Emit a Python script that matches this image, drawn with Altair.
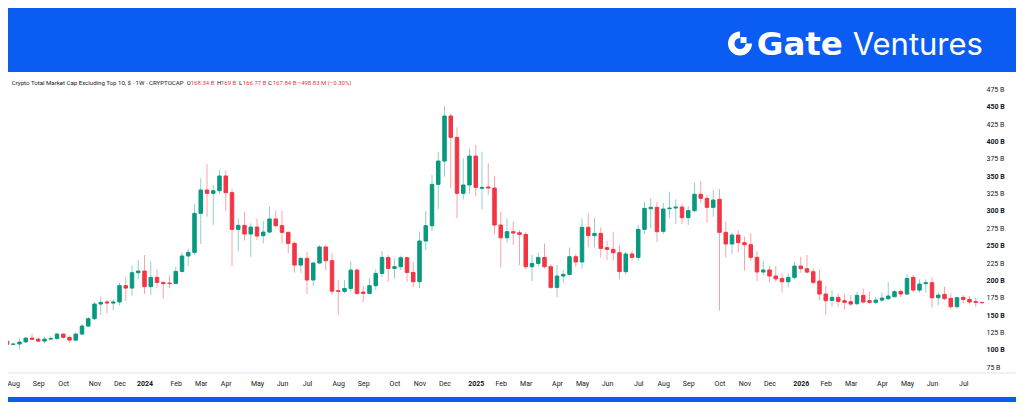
import altair as alt
import pandas as pd

# ---------------- data (weekly candles, values in billions USD) ----------------
start_date = "2023-07-31"
n_weeks = 157
week_dates = [d.strftime("%Y-%m-%d") for d in pd.date_range(start_date, periods=n_weeks, freq="7D")]

opens = [112.5, 108, 108.5, 111.5, 117, 115.4, 112.7, 115.6, 116.5, 122.8,
         118, 114.1, 122.8, 134.3, 144.9, 166, 169, 167.4, 169, 192.4,
         189, 211.1, 213.5, 191, 204.4, 197.2, 196.2, 195.5, 213, 235.1,
         240.4, 296.5, 330.1, 325.3, 329.1, 350.3, 326.3, 273.5, 279.2, 266.8,
         276.8, 264.4, 269.6, 288.4, 278.8, 269.2, 253.3, 222.1, 231.7, 200.6,
         225, 248.1, 228.4, 185.2, 184.3, 188.5, 214.9, 183.2, 181.3, 192.4,
         210.1, 233.1, 217.3, 219.7, 232.7, 211.5, 198.1, 256.7, 278.7, 338.2,
         371.8, 436.6, 405.9, 325.3, 337.3, 379, 332.5, 334.4, 333, 279.7,
         261.4, 270.1, 268.6, 266.2, 219.7, 224.5, 233.1, 219.7, 190, 206.3,
         208.7, 234.1, 226.5, 276.4, 264.4, 267.7, 247.1, 244.7, 239.9, 212.6,
         238, 233.2, 273.5, 303.2, 305.2, 270.6, 303.2, 304.2, 305.6, 290.3,
         300.4, 323.9, 318.1, 305.2, 316.7, 269.2, 252.4, 265.3, 254.3, 251.4,
         233.2, 212.1, 215, 206.3, 202.9, 198.1, 204.4, 220.7, 216.8, 212.5,
         199.1, 180.4, 171.3, 175.6, 170.8, 169.3, 166.5, 178.5, 170.8, 168.4,
         171.7, 173.7, 176.5, 184.2, 180.4, 204.4, 186.1, 195.3, 196.7, 175.1,
         179.9, 174.1, 162.1, 175.6, 172.7, 169.5, 168.34]
highs = [113.5, 109.5, 116.5, 118, 123.7, 118, 118.9, 119.9, 124.7, 123.7,
         120.9, 124.7, 137.2, 147.7, 169.3, 176.5, 171.7, 172.7, 196.7, 204.4,
         221.7, 229.4, 236.6, 227, 215.9, 198.2, 207.3, 219.8, 239.9, 245.7,
         310, 346.9, 367.5, 337.3, 358.9, 358, 332, 289.3, 298.4, 282.1,
         289.3, 285.5, 306.1, 300.3, 300.3, 270.1, 255.7, 234.1, 241.3, 226.9,
         250.9, 250.9, 238.9, 200.5, 200.5, 226.9, 217.3, 192.4, 202.9, 216.3,
         242.3, 236.5, 231.7, 235.5, 234.1, 226.9, 270.1, 299.8, 351.6, 384.3,
         451.4, 440.4, 420.3, 375.6, 390, 394.8, 385.2, 368.4, 350.2, 298.9,
         289.3, 284.5, 272.5, 270.1, 236.5, 239.9, 253.3, 223.5, 222.2, 214.9,
         247.1, 238, 289.3, 296.5, 290.3, 276.4, 257.2, 270.1, 251, 241.3,
         242.8, 279.7, 313.3, 318.1, 313.3, 311.9, 327.7, 316.7, 310, 307.1,
         340.7, 343.1, 322.9, 330.1, 331.5, 284.5, 268.7, 272.5, 262.9, 267.7,
         241.8, 228.4, 220.7, 220.7, 210.1, 210.1, 226.9, 234.1, 236.5, 217.3,
         215.9, 191.9, 186.1, 181.3, 179.9, 178.9, 183.7, 188.5, 183.7, 176.5,
         182.3, 197.6, 186.1, 187.1, 209.2, 207.7, 201.5, 201.5, 204.4, 182.8,
         190.9, 181.3, 176.5, 178.9, 177.5, 175.1, 169]
lows = [107.5, 107, 100.7, 110.5, 114.1, 111.7, 109.3, 114.1, 114.1, 116.5,
        110.3, 112.7, 122.3, 133.3, 143, 150.1, 152.5, 157.4, 164.1, 170.8,
        178, 201.5, 180.4, 179, 188.6, 174.2, 189.1, 194.8, 211.1, 220.7,
        236.6, 252.4, 291.7, 279.7, 324.4, 300.4, 220.7, 242.3, 257.2, 234.1,
        258.1, 253.3, 267.7, 276.4, 253.3, 238.9, 211.1, 211.1, 180.4, 192.4,
        224.5, 214.9, 178.9, 150.1, 181.3, 183.7, 178.9, 168.4, 179.9, 186.1,
        205.3, 198.1, 202, 214.9, 198.1, 190.9, 189.5, 243.7, 271, 302.7,
        349.2, 332.5, 289.3, 316.6, 325.3, 320.5, 302.2, 322.9, 266.7, 218.7,
        254.2, 250.9, 222.1, 215.9, 199.1, 219.7, 217.3, 187.6, 175.6, 196.7,
        206.3, 219.8, 216.9, 247.6, 247.6, 232.7, 229.3, 228.4, 201.5, 208.7,
        228.4, 228.4, 266.8, 275, 255.7, 266.8, 289.3, 281.2, 281.2, 279.7,
        298, 310.9, 283.6, 291.7, 156.4, 232.7, 238, 239.9, 214, 228.4,
        198.6, 207.8, 197.7, 198.1, 182.3, 190, 201.5, 211.1, 210.1, 194.8,
        171.7, 150.1, 162.1, 162.1, 158.3, 163.1, 164.1, 166.9, 166, 166,
        168.9, 171.7, 175.6, 175.6, 178.9, 182.8, 182.3, 182.3, 160.7, 164.1,
        171.7, 158.3, 159.7, 166.9, 165.5, 162.1, 166.77]
closes = [108, 108.5, 111.3, 117, 115.1, 112.7, 115.6, 116.5, 122.8, 118,
          114.1, 122.8, 134.3, 144.9, 166, 168.4, 167.4, 169, 192.4, 189,
          211.1, 213.5, 191, 204.4, 197.2, 195.3, 195.5, 213, 235.1, 240.4,
          296.5, 330.1, 325.3, 329.1, 350.3, 326.3, 273.5, 279.2, 266.8, 276.8,
          263.9, 269.6, 288.4, 278.8, 269.2, 253.3, 222.1, 231.7, 200.6, 225,
          248.1, 228.4, 184.5, 184.3, 188.5, 214.9, 181.3, 181.3, 192.4, 210.1,
          233.1, 217.3, 219.7, 232.7, 211.5, 198.1, 256.7, 278.7, 338.2, 371.8,
          436.6, 405.9, 325.3, 337.3, 379, 333.9, 333.9, 333, 279.7, 261.4,
          270.1, 268.2, 266.2, 219.7, 224.5, 233.1, 219.7, 190, 206.3, 208.7,
          234.1, 226.5, 276.4, 264.4, 267.7, 246.1, 244.7, 239.9, 212.6, 238,
          233.2, 273.5, 303.7, 305.2, 270.1, 302.8, 304.2, 305.6, 290.3, 300.4,
          323.9, 318.1, 305.2, 315.7, 269.2, 252.4, 265.3, 254.3, 251.4, 233.2,
          212.1, 215, 206.3, 202.2, 198.1, 204.4, 220.7, 216.8, 212, 197.2,
          180.4, 170.8, 175.6, 169.8, 168.4, 166, 178.5, 168.9, 168.4, 171.7,
          174.6, 177.5, 183.7, 180.4, 202.9, 186.1, 194.8, 196.7, 175.1, 178.9,
          173.7, 162.1, 175.1, 172.7, 168.9, 168.3, 167.84]

y_ticks = [75, 100, 125, 150, 175, 200, 225, 250, 275, 300, 325, 350, 375, 400, 425, 450, 475]

chart_title = "Crypto Total Market Cap Excluding Top 10, $ · 1W · CRYPTOCAP"
last_change = "−498.83 M (−0.30%)"

# ---------------- styling ----------------
GREEN = "#089981"
RED = "#F23645"
TEXT = "#131722"
BANNER = "#0b5cf2"
FONT = "Roboto"

df = pd.DataFrame({"date": week_dates, "open": opens, "high": highs,
                   "low": lows, "close": closes})

WEEK_MS = 7 * 24 * 3600 * 1000
t0 = pd.Timestamp(start_date, tz="UTC").value // 10**6
VIEW_W, VIEW_H = 977, 299
x_domain = [t0 + WEEK_MS * (1 / 6.25), t0 + WEEK_MS * ((VIEW_W + 1) / 6.25)]

# first weekly bar of each month (TradingView-style month labels)
tick_ms = []
seen = set()
for d in pd.to_datetime(week_dates):
    key = (d.year, d.month)
    if key not in seen:
        seen.add(key)
        if key != (2023, 7):
            tick_ms.append(pd.Timestamp(d, tz="UTC").value // 10**6)

x_enc = alt.X(
    "date:T",
    scale=alt.Scale(type="utc", domain=x_domain, padding=0),
    axis=alt.Axis(
        values=tick_ms, title=None, grid=False, ticks=False, tickSize=0, domain=False,
        labelExpr="utcmonth(datum.value) === 0 ? utcFormat(datum.value, '%Y') : utcFormat(datum.value, '%b')",
        labelFontWeight={"condition": {"test": "utcmonth(datum.value) === 0", "value": "bold"}, "value": "normal"},
        labelFontSize=7, labelColor=TEXT, labelFont=FONT, labelPadding=7,
        labelOverlap=False, labelFlush=False, zindex=2,
    ),
)
y_scale = alt.Scale(domain=[68.2, 498.5], nice=False, zero=False, padding=0)
y_axis = alt.Axis(
    orient="right", values=y_ticks, title=None, grid=False, ticks=False, tickSize=0,
    domain=False, labelExpr="datum.value + ' B'",
    labelFontWeight={"condition": {"test": "datum.value % 50 === 0", "value": "bold"}, "value": "normal"},
    labelFontSize=7, labelColor=TEXT, labelFont=FONT, labelPadding=1, labelAlign="left",
    zindex=2,
)

color_cond = alt.condition("datum.close >= datum.open", alt.value(GREEN), alt.value(RED))

base = alt.Chart(df)
wicks = base.mark_rule(strokeWidth=1, opacity=0.45).encode(
    x=x_enc, y=alt.Y("low:Q", scale=y_scale, axis=y_axis), y2="high:Q", color=color_cond)
bodies = base.mark_bar(size=3.5, strokeWidth=1).encode(
    x=x_enc, y=alt.Y("open:Q", scale=y_scale, axis=y_axis), y2="close:Q",
    color=color_cond, stroke=color_cond)

one = alt.Data(values=[{}])

panel = alt.Chart(one).mark_rect(color="white").encode(
    x=alt.value(0), x2=alt.value(1008), y=alt.value(-1), y2=alt.value(324))
bottom_line = alt.Chart(one).mark_rule(color="#e0e3eb", strokeWidth=1).encode(
    x=alt.value(0), x2=alt.value(1008), y=alt.value(300))

def label(txt, x, color=TEXT, size=6.0, y=10, weight="normal", font=FONT):
    return alt.Chart(one).mark_text(
        text=txt, align="left", baseline="middle", fontSize=size, font=font,
        fontWeight=weight, color=color,
    ).encode(x=alt.value(x), y=alt.value(y))

header = [
    label(chart_title, 3.7, size=6.1),
    label("O", 178.7), label(f"{opens[-1]:.2f} B", 182.7, RED),
    label("H", 209), label(f"{highs[-1]:g} B", 213, RED),
    label("L", 231), label(f"{lows[-1]:.2f} B", 234.7, RED),
    label("C", 260), label(f"{closes[-1]:.2f} B", 264.7, RED),
    label(last_change, 289.7, RED),
]

logo_ring = alt.Chart(one).mark_arc(color="white").encode(
    x=alt.value(732), y=alt.value(-29.5),
    theta=alt.value(1.5708), theta2=alt.value(6.2832),
    radius=alt.value(12), radius2=alt.value(5.5))
logo_square = alt.Chart(one).mark_rect(color="white").encode(
    x=alt.value(732.5), x2=alt.value(738.5), y=alt.value(-36), y2=alt.value(-30))
logo_gate = alt.Chart(one).mark_text(
    text="Gate", align="left", baseline="alphabetic", fontSize=32.5, font="DejaVu Sans",
    fontWeight="bold", color="white").encode(x=alt.value(748.7), y=alt.value(-18))
logo_ventures = alt.Chart(one).mark_text(
    text="Ventures", align="left", baseline="alphabetic", fontSize=31, font="Inter",
    fontWeight=400, color="white").encode(x=alt.value(844.7), y=alt.value(-18))

chart = alt.layer(
    panel, bottom_line, wicks, bodies, *header,
    logo_ring, logo_square, logo_gate, logo_ventures,
).properties(
    width=VIEW_W, height=VIEW_H,
    padding={"left": 0, "top": 65, "right": 31, "bottom": 30},
    autosize=alt.AutoSizeParams(type="none"),
    background=BANNER,
).configure_view(stroke=None)

chart.save("out.html", embed_options={"renderer": "svg", "actions": False})
